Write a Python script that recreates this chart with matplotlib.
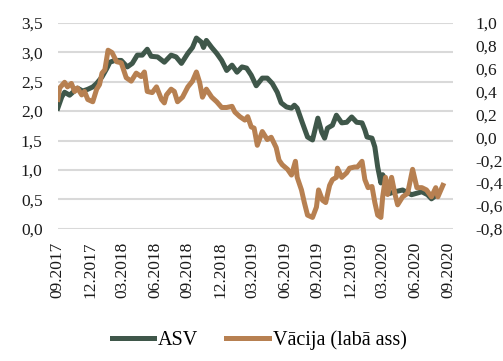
import matplotlib.pyplot as plt
import matplotlib.dates as mdates
import matplotlib.ticker as mticker
import pandas as pd

plt.rcParams['font.family'] = ['Liberation Serif', 'DejaVu Serif']

# ASV (kreisā ass)
asv_dates = ['2017-09-01', '2017-09-12', '2017-09-20', '2017-10-04', '2017-10-26', '2017-11-10',
             '2017-11-24', '2017-12-08', '2017-12-19', '2018-01-03', '2018-01-17', '2018-01-25',
             '2018-02-08', '2018-02-26', '2018-03-15', '2018-03-29', '2018-04-12', '2018-04-26',
             '2018-05-10', '2018-05-21', '2018-06-08', '2018-06-27', '2018-07-16', '2018-07-30',
             '2018-08-14', '2018-09-01', '2018-09-14', '2018-09-25', '2018-10-09', '2018-10-15',
             '2018-10-23', '2018-11-07', '2018-11-21', '2018-12-05', '2018-12-19', '2019-01-03',
             '2019-01-17', '2019-01-31', '2019-02-13', '2019-02-26', '2019-03-12', '2019-03-29',
             '2019-04-12', '2019-04-26', '2019-05-10', '2019-05-21', '2019-06-05', '2019-06-19',
             '2019-06-27', '2019-07-05', '2019-07-19', '2019-08-03', '2019-08-17', '2019-09-01',
             '2019-09-12', '2019-09-20', '2019-09-28', '2019-10-12', '2019-10-23', '2019-11-07',
             '2019-11-21', '2019-12-05', '2019-12-19', '2020-01-03', '2020-01-11', '2020-01-17',
             '2020-01-31', '2020-02-08', '2020-02-16', '2020-02-25', '2020-03-01', '2020-03-12',
             '2020-03-20', '2020-04-04', '2020-04-26', '2020-05-21', '2020-06-19', '2020-07-05',
             '2020-07-16', '2020-07-31']
asv_vals = [2.05, 2.24, 2.32, 2.27, 2.39, 2.34,
            2.37, 2.41, 2.47, 2.58, 2.73, 2.83,
            2.86, 2.86, 2.75, 2.81, 2.95, 2.95,
            3.05, 2.93, 2.92, 2.83, 2.95, 2.92,
            2.81, 2.98, 3.08, 3.24, 3.17, 3.08,
            3.20, 3.08, 2.98, 2.86, 2.69, 2.78,
            2.66, 2.75, 2.73, 2.61, 2.43, 2.56,
            2.56, 2.47, 2.32, 2.14, 2.07, 2.05,
            2.10, 2.05, 1.81, 1.56, 1.51, 1.88,
            1.64, 1.54, 1.71, 1.76, 1.93, 1.80,
            1.81, 1.90, 1.81, 1.80, 1.68, 1.56,
            1.54, 1.39, 1.05, 0.78, 0.92, 0.80,
            0.60, 0.63, 0.66, 0.58, 0.63, 0.58,
            0.51, 0.58]

# Vācija (labā ass)
de_dates = ['2017-09-01', '2017-09-06', '2017-09-20', '2017-09-28', '2017-10-09', '2017-10-18',
            '2017-10-26', '2017-11-07', '2017-11-15', '2017-11-24', '2017-12-08', '2017-12-19',
            '2017-12-27', '2018-01-03', '2018-01-11', '2018-01-20', '2018-01-31', '2018-02-13',
            '2018-02-26', '2018-03-12', '2018-03-26', '2018-04-09', '2018-04-23', '2018-05-02',
            '2018-05-10', '2018-05-24', '2018-06-05', '2018-06-19', '2018-06-27', '2018-07-03',
            '2018-07-16', '2018-07-25', '2018-08-03', '2018-08-17', '2018-09-01', '2018-09-14',
            '2018-09-25', '2018-10-04', '2018-10-12', '2018-10-23', '2018-11-07', '2018-11-21',
            '2018-12-05', '2018-12-19', '2019-01-03', '2019-01-11', '2019-01-25', '2019-02-08',
            '2019-02-16', '2019-02-26', '2019-03-06', '2019-03-15', '2019-03-29', '2019-04-12',
            '2019-04-23', '2019-05-07', '2019-05-15', '2019-05-24', '2019-06-08', '2019-06-19',
            '2019-06-30', '2019-07-05', '2019-07-17', '2019-07-25', '2019-08-03', '2019-08-17',
            '2019-08-28', '2019-09-03', '2019-09-14', '2019-09-23', '2019-10-04', '2019-10-12',
            '2019-10-23', '2019-10-26', '2019-11-07', '2019-11-21', '2019-11-29', '2019-12-13',
            '2019-12-21', '2020-01-03', '2020-01-11', '2020-01-20', '2020-01-31', '2020-02-08',
            '2020-02-16', '2020-02-25', '2020-03-01', '2020-03-09', '2020-03-15', '2020-03-26',
            '2020-04-04', '2020-04-12', '2020-04-26', '2020-05-10', '2020-05-24', '2020-06-05',
            '2020-06-19', '2020-07-02', '2020-07-16', '2020-07-28', '2020-08-03', '2020-08-17']
de_vals = [0.33, 0.43, 0.48, 0.44, 0.47, 0.40,
           0.43, 0.37, 0.40, 0.33, 0.31, 0.42,
           0.46, 0.56, 0.59, 0.76, 0.74, 0.66,
           0.65, 0.52, 0.49, 0.56, 0.53, 0.57,
           0.40, 0.39, 0.44, 0.33, 0.30, 0.37,
           0.42, 0.40, 0.31, 0.35, 0.44, 0.49,
           0.57, 0.48, 0.35, 0.42, 0.35, 0.31,
           0.26, 0.26, 0.27, 0.22, 0.18, 0.15,
           0.18, 0.09, 0.08, -0.07, 0.05, -0.02,
           0.00, -0.09, -0.20, -0.24, -0.28, -0.33,
           -0.21, -0.35, -0.46, -0.57, -0.68, -0.70,
           -0.61, -0.46, -0.55, -0.57, -0.42, -0.37,
           -0.35, -0.27, -0.35, -0.31, -0.27, -0.26,
           -0.26, -0.21, -0.37, -0.44, -0.43, -0.57,
           -0.68, -0.70, -0.52, -0.35, -0.50, -0.35,
           -0.49, -0.59, -0.52, -0.49, -0.28, -0.44,
           -0.44, -0.46, -0.52, -0.44, -0.52, -0.42]

tick_dates = pd.date_range('2017-09-01', '2020-09-01', freq='3MS')

green = '#3f574a'
brown = '#b78051'

fig = plt.figure(figsize=(5.03, 3.61), dpi=100)
ax = fig.add_axes([0.115, 0.366, 0.786, 0.571])
ax2 = ax.twinx()

l1, = ax.plot(pd.to_datetime(asv_dates), asv_vals, color=green, lw=3.6, solid_joinstyle='round')
l2, = ax2.plot(pd.to_datetime(de_dates), de_vals, color=brown, lw=3.6, solid_joinstyle='round')

ax.set_ylim(0, 3.5)
ax2.set_ylim(-0.8, 1.0)
ax.set_yticks([0, 0.5, 1, 1.5, 2, 2.5, 3, 3.5])
ax2.set_yticks([-0.8, -0.6, -0.4, -0.2, 0, 0.2, 0.4, 0.6, 0.8, 1.0])
fmt = mticker.FuncFormatter(lambda v, p: f'{v:.1f}'.replace('.', ','))
ax.yaxis.set_major_formatter(fmt)
ax2.yaxis.set_major_formatter(fmt)

ax.set_xlim(pd.Timestamp('2017-09-01'), pd.Timestamp('2020-09-15'))
ax.set_xticks(tick_dates)
ax.xaxis.set_major_formatter(mdates.DateFormatter('%m.%Y'))
for lab in ax.get_xticklabels():
    lab.set_rotation(90)

ax.grid(axis='y', color='#d9d9d9', lw=1.5)
ax.set_axisbelow(True)
for a in (ax, ax2):
    for s in a.spines.values():
        s.set_visible(False)
    a.tick_params(length=0, labelsize=12.5, colors='#1a1a1a')
ax.tick_params(axis='y', pad=11)
ax2.tick_params(axis='y', pad=16)
ax.tick_params(axis='x', pad=9)

# brown (right axis) is drawn over the green line
ax2.patch.set_visible(False)

fig.legend([l1, l2], ['ASV', 'Vācija (labā ass)'], loc='center', bbox_to_anchor=(0.515, 0.058),
           ncol=2, frameon=False, fontsize=14.5, handlelength=2.1, handletextpad=0.2,
           columnspacing=1.4)

fig.savefig('out.png', dpi=100)
